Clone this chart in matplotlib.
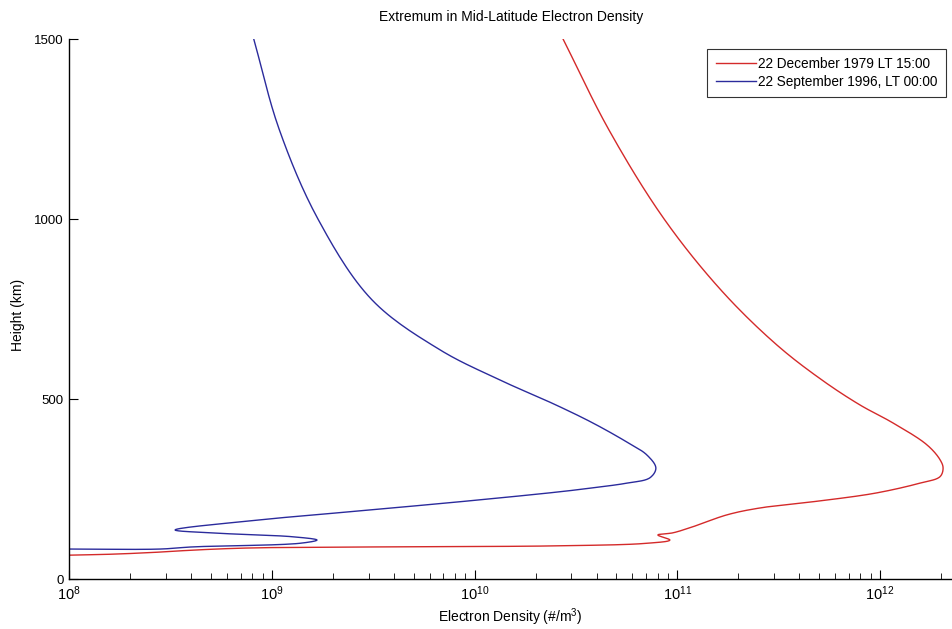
import numpy as np
import matplotlib
matplotlib.use("Agg")
import matplotlib.pyplot as plt
from matplotlib.ticker import LogLocator, FixedLocator

plt.rcParams['font.family'] = ['Liberation Sans', 'DejaVu Sans']
plt.rcParams['mathtext.fontset'] = 'custom'
plt.rcParams['mathtext.rm'] = 'Liberation Sans'
plt.rcParams['mathtext.it'] = 'Liberation Sans'
plt.rcParams['mathtext.default'] = 'regular'

title = "Extremum in Mid-Latitude Electron Density"
xlabel = "Electron Density (#/m$^3$)"
ylabel = "Height (km)"
labels = ["22 December 1979 LT 15:00", "22 September 1996, LT 00:00"]

# Dec 1979 profile: log10 density, height (km)
red_log = [10.436, 10.662, 10.935, 11.220, 11.492, 11.714, 11.901,
           12.064, 12.232, 12.296, 12.311, 12.296, 12.197, 11.985, 11.738, 11.407,
           11.245, 11.077, 10.978, 10.904, 10.963, 10.850, 10.420, 9.547, 8.891,
           8.610, 8.462, 8.226, 8.0]
red_h = [1500, 1248, 1000, 800, 650, 553, 484,
         434, 373, 332, 309, 285, 267, 240, 220, 198,
         179, 146, 129, 123, 109, 100, 93, 90, 87,
         81, 76, 70, 67]

# Sep 1996 profile
blue_log = [8.910, 9.035, 9.227, 9.493, 9.829, 10.126, 10.401,
            10.583, 10.751, 10.850, 10.894, 10.865, 10.751, 10.583, 10.420, 9.977,
            9.434, 8.941, 8.522, 8.694, 9.104, 9.222, 9.138, 8.610, 8.448, 8.0]
blue_h = [1500, 1250, 1000, 776, 637, 553, 484,
          434, 381, 345, 309, 282, 267, 254, 243, 218,
          190, 165, 137, 129, 118, 109, 100, 90, 84, 84]

yticks = [0, 500, 1000, 1500]


def smooth(xs, ys, n=16):
    # centripetal Catmull-Rom through the read points, in pixel-like units
    P = np.column_stack([np.asarray(xs, float) * 202.7, np.asarray(ys, float) * 0.36])
    P = np.vstack([2 * P[0] - P[1], P, 2 * P[-1] - P[-2]])
    out = []
    for i in range(1, len(P) - 2):
        p0, p1, p2, p3 = P[i - 1], P[i], P[i + 1], P[i + 2]
        t0 = 0.0
        t1 = t0 + max(np.linalg.norm(p1 - p0), 1e-6) ** 0.5
        t2 = t1 + max(np.linalg.norm(p2 - p1), 1e-6) ** 0.5
        t3 = t2 + max(np.linalg.norm(p3 - p2), 1e-6) ** 0.5
        for t in np.linspace(t1, t2, n, endpoint=False):
            a1 = (t1 - t) / (t1 - t0) * p0 + (t - t0) / (t1 - t0) * p1
            a2 = (t2 - t) / (t2 - t1) * p1 + (t - t1) / (t2 - t1) * p2
            a3 = (t3 - t) / (t3 - t2) * p2 + (t - t2) / (t3 - t2) * p3
            b1 = (t2 - t) / (t2 - t0) * a1 + (t - t0) / (t2 - t0) * a2
            b2 = (t3 - t) / (t3 - t1) * a2 + (t - t1) / (t3 - t1) * a3
            c = (t2 - t) / (t2 - t1) * b1 + (t - t1) / (t2 - t1) * b2
            out.append(c)
    out.append(P[-2])
    out = np.array(out)
    return out[:, 0] / 202.7, out[:, 1] / 0.36


fig = plt.figure(figsize=(9.52, 6.29), dpi=100)
ax = fig.add_axes([69.3 / 952, 1 - 579.3 / 629, (952 - 69.3) / 952, (579.3 - 39) / 629])

rx, ry = smooth(red_log, red_h)
bx, by = smooth(blue_log, blue_h)
ax.plot(10 ** rx, ry, color='#d42a2a', lw=1.0, label=labels[0])
ax.plot(10 ** bx, by, color='#2b2b9c', lw=1.0, label=labels[1])

ax.set_xscale('log')
ax.set_xlim(1e8, 10 ** 12.355)
ax.set_ylim(0, 1500)
ax.yaxis.set_major_locator(FixedLocator(yticks))
ax.xaxis.set_major_locator(LogLocator(base=10, numticks=10))
ax.xaxis.set_minor_locator(LogLocator(base=10, subs=np.arange(2, 10), numticks=50))

for s in ['top', 'right']:
    ax.spines[s].set_visible(False)
for s in ['left', 'bottom']:
    ax.spines[s].set_linewidth(1.0)
    ax.spines[s].set_color('black')

ax.tick_params(which='major', direction='in', length=6.5, width=0.8, labelsize=9.5, pad=4)
ax.tick_params(axis='x', which='major', labelsize=10.5)
ax.tick_params(which='minor', direction='in', length=4.3, width=0.6)
ax.tick_params(axis='y', which='minor', left=False)

ax.set_title(title, fontsize=10, pad=13)
ax.set_xlabel(xlabel, fontsize=10, labelpad=2)
ax.set_ylabel(ylabel, fontsize=10)
ax.yaxis.set_label_coords(18 / 952, 0.5, transform=fig.transFigure)
ax.yaxis.label.set_verticalalignment('center')

leg = ax.legend(loc='upper right', bbox_to_anchor=(946 / 952, 1 - 49 / 629),
                bbox_transform=fig.transFigure, fontsize=9.8, frameon=True,
                fancybox=False, handlelength=3.0, handletextpad=0.15,
                borderpad=0.6, labelspacing=0.3, borderaxespad=0)
leg.get_frame().set_edgecolor('black')
leg.get_frame().set_linewidth(0.8)

fig.savefig('out.png', dpi=100)
